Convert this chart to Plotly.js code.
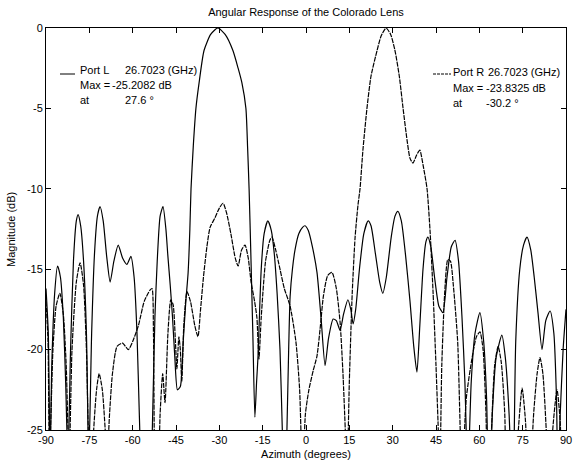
<!DOCTYPE html>
<html><head><meta charset="utf-8">
<script src="https://cdn.plot.ly/plotly-3.0.1.min.js"></script>
<style>html,body{margin:0;padding:0;background:#fff;}#plot{width:581px;height:464px;}</style>
</head><body><div id="plot"></div>
<script>
// Port L (main beam near -30°)
const azL = [-90,-89.2,-88.6,-88,-87,-86,-85,-84,-83.2,-82.4,-81.5,-80.5,-79.5,-78.9,-78,-77,-76,-75.2,-74.2,-73.2,-72.2,-71.3,-70.2,-69,-67.8,-66.5,-65,-63.5,-62,-60.6,-59.5,-58.5,-57.7,-56.5,-55.3,-54,-53.2,-52.3,-51.5,-50.5,-49.5,-48.5,-47.8,-47,-46.2,-45.4,-44.5,-43.5,-42.5,-41.6,-40.8,-40.2,-39.8,-39,-38.1,-37,-35.3,-33,-30.5,-28,-25.3,-23.5,-22.2,-20.8,-20.2,-19.7,-19.1,-18.4,-17.7,-17.1,-16.6,-15.5,-14.5,-13.2,-12,-11,-10,-9,-8.2,-7.4,-6.6,-6,-5.5,-4.7,-3.8,-2.5,-1.2,-0.35,0.8,2.2,3.8,5.2,6.6,7.8,9.4,10.5,11.8,13,14.5,15.5,16.3,17.2,18.5,20,21.5,22.5,24,25.5,26.6,27.8,29.5,30.8,31.8,33,34.5,36,37.3,38.4,39.4,40.5,41.5,42.2,43.2,44.5,46,47.4,48.8,50.3,51.6,52.8,54,55,56,57.2,58.5,60.2,61.5,62.5,63.4,64.5,65.8,67.8,69,70.3,71.6,72.6,74,75.3,76.5,77.8,79,80.3,81.7,83,84.5,85.8,86.7,87.2,88,89,90];
const magL = [-16.2,-19,-27,-21,-16.5,-14.8,-15.5,-18,-22,-27,-20,-14.5,-12,-11.6,-12.3,-14.5,-19,-27,-19,-14,-11.7,-11.1,-12,-14.2,-15.8,-14.5,-13.5,-14.3,-14.7,-14.2,-15.5,-19,-24,-30,-31,-29,-25,-18,-14.5,-11.7,-11.1,-12.5,-14.2,-16,-18,-20.5,-22.5,-22.3,-19.5,-17,-15.2,-12.5,-10,-7.3,-5,-3.4,-1.4,-0.4,0,-0.4,-1.4,-2.5,-3.4,-5,-7.5,-10,-14,-19,-24.2,-22,-20.4,-15,-12.8,-12,-12.6,-14,-16.5,-20,-25,-30,-25,-20,-16.7,-15,-13.8,-12.8,-12.4,-12.3,-12.6,-13.6,-15.2,-18,-21,-19.3,-18.1,-18.2,-18.8,-17.8,-16.9,-17.5,-18.4,-17.5,-15,-12.8,-12,-12.3,-14,-15.8,-16.5,-15.5,-13,-11.7,-11.4,-12,-14.2,-17,-19.8,-21.4,-18.5,-15,-13.3,-13,-13.6,-15.5,-17.3,-17.7,-15.5,-13.6,-13.2,-14.5,-18,-22,-28,-22,-19,-17.7,-19.5,-23,-30,-24,-20.5,-19.1,-20.5,-24,-30,-19.5,-15,-13.5,-13,-13.8,-15.5,-17.7,-20,-18.2,-17.6,-19,-23,-28,-24,-20,-17.5];

// Port R (main beam near +28°)
const azR = [-90,-89.3,-88.8,-87.6,-86.5,-85.2,-84,-83,-82,-81,-79.5,-78.2,-77,-76,-75.5,-74.6,-73.5,-72.5,-71.6,-70.5,-69.5,-68.9,-68,-67,-65.4,-63.5,-61.5,-60,-58,-56,-54,-53.3,-52.8,-52.3,-51.4,-50.5,-49.6,-48.8,-47.8,-46.8,-46,-45.2,-44.7,-44,-43.5,-43,-42.3,-41.2,-40,-38.5,-37.4,-36.5,-35.5,-34.3,-33.2,-31.5,-30,-28.7,-27.5,-26,-24.5,-23.5,-22.3,-21.1,-20,-19,-17.8,-17,-16.3,-15.5,-14,-12.5,-11.8,-10.5,-9,-7.5,-5.5,-3.5,-2.2,-1.2,-0.2,1,2.5,3.8,5,6,7.5,9,10.5,11.8,12.8,13.6,14.2,15,16,17,18,18.7,19.7,21.1,22.5,24.6,26,27.7,29.3,30.8,32.3,33.6,35,36,37,38.3,39.4,40.5,41.9,43,44,45,45.7,46.3,47,48,49.1,50,51,52.5,54,55.5,57.5,59,60.2,61.3,62.3,63,64.2,65.3,66.5,67.6,68.8,69.6,71,72.5,73.5,74.8,76,77,78.8,80,81,82,83.3,84.3,85.4,86.9,88,88.8,90];
const magR = [-17,-19.5,-27,-20,-17.3,-16.5,-17.8,-21,-27,-20,-15.8,-14.6,-16,-20,-24,-30,-25,-22.5,-21.5,-22.5,-25,-27,-24,-21.5,-19.8,-19.6,-20,-19.5,-18.5,-17,-16.3,-16.2,-19,-28,-30,-24,-21.5,-23.3,-19,-16.9,-17.2,-19.5,-21.2,-19.2,-20,-22,-18.5,-16.4,-17,-18.5,-19.2,-17.5,-15.5,-13.6,-12.4,-11.8,-11.2,-10.9,-11.5,-12.8,-14.3,-14.8,-13.8,-13.5,-14.3,-15.8,-17,-18,-20.6,-18,-14.5,-13.2,-13,-13.8,-15,-16.2,-17.3,-19.5,-22.5,-28,-24,-22.5,-21.3,-20.4,-18.5,-16.7,-15.4,-15.2,-16.2,-18.3,-21.5,-25,-28,-22,-16.5,-13,-11,-10,-7.6,-5,-3,-1.4,-0.5,0,-0.4,-1.4,-3,-5,-7,-8.1,-8.4,-7.9,-7.6,-8.5,-10,-12.8,-16.5,-21,-24.5,-28,-21,-16.5,-14.4,-14.5,-16,-19.5,-28,-23,-20.5,-19.2,-18.9,-20,-24,-30,-25,-21,-19.8,-20.8,-24,-30,-31,-28,-25,-22.4,-24.5,-30,-24,-21.5,-20.5,-21.5,-25.5,-30,-25,-22.5,-24.5,-30,-26];

const xTicks = [-90,-75,-60,-45,-30,-15,0,15,30,45,60,75,90];
const yTicks = [-25,-20,-15,-10,-5,0];

const FONT = 'Liberation Sans, Arial, sans-serif';
const traces = [
  {x: azL, y: magL, type: 'scatter', mode: 'lines', name: 'Port L',
   line: {color: '#000', width: 1.2, shape: 'spline', smoothing: 0.6}},
  {x: azR, y: magR, type: 'scatter', mode: 'lines', name: 'Port R',
   line: {color: '#000', width: 1.2, dash: '5px,1px', shape: 'spline', smoothing: 0.6}}
];

const ann = (x, y, t) => ({xref: 'paper', yref: 'paper', x: x, y: y, text: t,
  showarrow: false, xanchor: 'left', yanchor: 'middle', font: {family: FONT, size: 11, color: '#000'}});

// paper coords: plot x 46..566 (520px), y 28..430 (402px)
const px = v => (v - 46) / 520;
const py = v => (430 - v) / 402;

const layout = {
  width: 581, height: 464,
  margin: {l: 46, r: 15, t: 28, b: 34},
  paper_bgcolor: '#fff', plot_bgcolor: '#fff',
  showlegend: false,
  font: {family: FONT, size: 11, color: '#000'},
  title: {text: 'Angular Response of the Colorado Lens', x: 0.5, xref: 'paper',
          y: 1 - 12/464, yref: 'container', yanchor: 'middle', font: {family: FONT, size: 11}},
  xaxis: {range: [-90, 90], tickvals: xTicks, ticktext: xTicks.map(String),
          ticks: 'inside', ticklen: 5, tickcolor: '#000', showline: true, linecolor: '#000',
          linewidth: 1, mirror: 'ticks', showgrid: false, zeroline: false,
          tickfont: {family: FONT, size: 11},
          title: {text: 'Azimuth (degrees)', standoff: 5, font: {family: FONT, size: 11}}},
  yaxis: {range: [-25, 0], tickvals: yTicks, ticktext: yTicks.map(String),
          ticks: 'inside', ticklen: 5, tickcolor: '#000', showline: true, linecolor: '#000',
          linewidth: 1, mirror: 'ticks', showgrid: false, zeroline: false,
          tickfont: {family: FONT, size: 11}},
  shapes: [
    {type: 'line', xref: 'paper', yref: 'paper', x0: px(60), x1: px(75), y0: py(74), y1: py(74),
     line: {color: '#000', width: 1}},
    {type: 'line', xref: 'paper', yref: 'paper', x0: px(433), x1: px(451), y0: py(74), y1: py(74),
     line: {color: '#000', width: 1, dash: '3px,1px'}}
  ],
  annotations: [
    {xref: 'paper', yref: 'paper', x: px(11), y: py(230), text: 'Magnitude (dB)', textangle: -90,
     showarrow: false, xanchor: 'center', yanchor: 'middle', font: {family: FONT, size: 11, color: '#000'}},
    ann(px(78), py(70), 'Port L'), ann(px(123), py(70), '26.7023 (GHz)'),
    ann(px(78), py(85), 'Max ='), ann(px(110), py(85), '-25.2082 dB'),
    ann(px(78), py(100), 'at'), ann(px(123), py(100), '27.6 °'),
    ann(px(451), py(72), 'Port R'), ann(px(486), py(72), '26.7023 (GHz)'),
    ann(px(451), py(88), 'Max ='), ann(px(484), py(88), '-23.8325 dB'),
    ann(px(451), py(103), 'at'), ann(px(484), py(103), '-30.2 °')
  ]
};

Plotly.newPlot('plot', traces, layout, {staticPlot: true, displayModeBar: false});
</script></body></html>
